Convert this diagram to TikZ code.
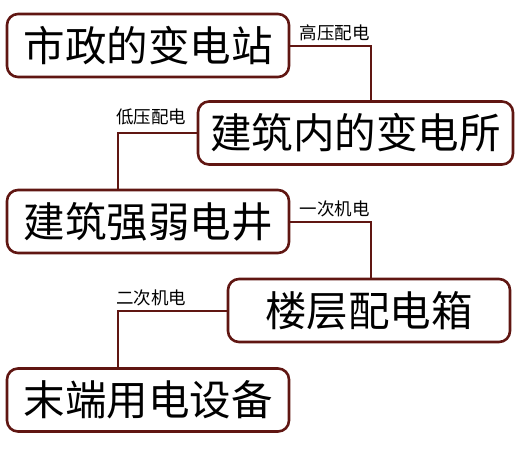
\documentclass[tikz,border=0pt]{standalone}
\usepackage{fontspec}
\usepackage{xcolor}
\newfontfamily\cjk{Noto Sans CJK SC}
\definecolor{boxred}{RGB}{96,22,18}

\begin{document}
\begin{tikzpicture}[x=1pt, y=-1pt,
  stage/.style={draw=boxred, line width=2.6pt, rounded corners=11pt, fill=white,
    minimum width=282pt, minimum height=63pt, inner sep=0pt,
    font=\cjk\fontsize{41.5}{48}\selectfont},
  link/.style={draw=boxred, line width=2pt},
  tag/.style={inner sep=0pt, font=\cjk\fontsize{17.5}{20}\selectfont}]
  \useasboundingbox (0,0) rectangle (529,450);

  % the five stages
  \node[stage] (sub) at (148,45.5) {市政的变电站};
  \node[stage, minimum width=315pt] (room) at (355.5,133) {建筑内的变电所};
  \node[stage] (shaft) at (148,221.5) {建筑强弱电井};
  \node[stage] (floor) at (369,310.5) {楼层配电箱};
  \node[stage] (end) at (148,400) {末端用电设备};

  % where the links turn down
  \coordinate (right) at (371,0);
  \coordinate (left) at (118,0);

  % links between the stages
  \draw[link] (sub.east) -| (room.north -| right);
  \draw[link] (room.west) -| (shaft.north -| left);
  \draw[link] (shaft.east) -| (floor.north -| right);
  \draw[link] (floor.west) -| (end.north -| left);

  % labels
  \node[tag, anchor=east] (hv) at (370,33) {高压配电};
  \node[tag, anchor=west] (lv) at (116,117) {低压配电};
  \node[tag, anchor=east] (first) at (370,209) {一次机电};
  \node[tag, anchor=west] (second) at (116,298) {二次机电};
\end{tikzpicture}
\end{document}
